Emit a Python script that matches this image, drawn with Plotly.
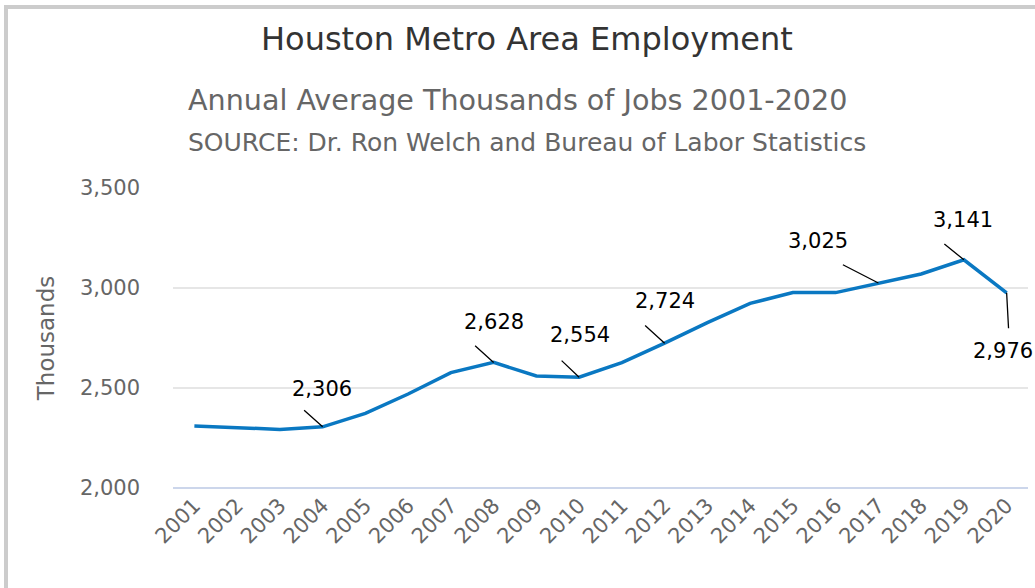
import plotly.graph_objects as go

# ---------------- data ----------------
years = [str(y) for y in range(2001, 2021)]
jobs = [2310, 2303, 2293, 2306, 2373, 2470, 2577, 2628, 2560, 2554,
        2627, 2724, 2827, 2923, 2977, 2977, 3025, 3070, 3141, 2976]
labeled_years = ["2004", "2008", "2010", "2012", "2017", "2019", "2020"]
y_ticks = [2000, 2500, 3000, 3500]

title_text = "Houston Metro Area Employment"
subtitle_text = "Annual Average Thousands of Jobs 2001-2020"
source_text = "SOURCE: Dr. Ron Welch and Bureau of Labor Statistics"
y_title = "Thousands"

# ---------------- styling / layout (pixels) ----------------
W, H = 1035, 588
ML, MR, MT, MB = 173, 7, 188, 100
PW, PH = W - ML - MR, H - MT - MB
FONT = "DejaVu Sans"
LINE_COLOR = "#0a78c2"

# connector (dx, dy) and text (dx, dy) offsets in pixels, screen coords (down = +)
label_offsets = {
    "2004": ((-20, -18), (-1, -38)),
    "2008": ((-20, -18), (0, -40)),
    "2010": ((-19, -18), (1, -42)),
    "2012": ((-21, -19), (0, -42)),
    "2017": ((-37, -19), (-60, -42)),
    "2019": ((-21, -17), (-1, -40)),
    "2020": ((2, 37), (-4, 58)),
}


def px_x(p):
    return (p - ML) / PW


def px_y(p):
    return (H - MB - p) / PH


fig = go.Figure()
fig.add_trace(go.Scatter(
    x=years, y=jobs, mode="lines",
    line=dict(color=LINE_COLOR, width=3.5),
    hoverinfo="x+y", showlegend=False,
))

annotations = []
for yr in labeled_years:
    i = years.index(yr)
    v = jobs[i]
    (ldx, ldy), (tdx, tdy) = label_offsets[yr]
    annotations.append(dict(
        x=i, y=v, xref="x", yref="y", text="", showarrow=True,
        arrowhead=0, arrowwidth=1.3, arrowcolor="#000000",
        ax=ldx, ay=ldy, standoff=0, startstandoff=0,
    ))
    annotations.append(dict(
        x=i, y=v, xref="x", yref="y", text=f"{v:,}", showarrow=False,
        xshift=tdx, yshift=-tdy, xanchor="center", yanchor="middle",
        font=dict(family=FONT, size=21, color="#000000"),
    ))

annotations += [
    dict(x=px_x(527), y=px_y(39), xref="paper", yref="paper", text=title_text,
         showarrow=False, xanchor="center", yanchor="middle",
         font=dict(family=FONT, size=32, color="#333333")),
    dict(x=px_x(186), y=px_y(100), xref="paper", yref="paper", text=subtitle_text,
         showarrow=False, xanchor="left", yanchor="middle",
         font=dict(family=FONT, size=28.6, color="#666666")),
    dict(x=px_x(186), y=px_y(142), xref="paper", yref="paper", text=source_text,
         showarrow=False, xanchor="left", yanchor="middle",
         font=dict(family=FONT, size=25, color="#666666")),
]

shapes = [
    # outer container border (left + top visible)
    dict(type="rect", xref="paper", yref="paper",
         x0=px_x(6), x1=px_x(1200), y0=px_y(800), y1=px_y(7),
         line=dict(color="#cccccc", width=4), fillcolor="rgba(0,0,0,0)", layer="below"),
    # x axis baseline
    dict(type="line", xref="paper", yref="paper", x0=0, x1=1, y0=0, y1=0,
         line=dict(color="#ccd6eb", width=2)),
]

fig.update_layout(
    width=W, height=H,
    margin=dict(l=ML, r=MR, t=MT, b=MB, pad=0),
    paper_bgcolor="white", plot_bgcolor="white",
    font=dict(family=FONT, color="#666666"),
    showlegend=False,
    annotations=annotations,
    shapes=shapes,
    xaxis=dict(
        type="category", range=[-0.5, len(years) - 0.5],
        showgrid=False, zeroline=False, showline=False,
        ticks="", tickangle=-45,
        tickfont=dict(family=FONT, size=21, color="#666666"),
        fixedrange=True,
    ),
    yaxis=dict(
        range=[2000, 3500], tickvals=y_ticks,
        ticktext=[f"{t:,}" for t in y_ticks],
        showgrid=True, gridcolor="#e6e6e6", gridwidth=2,
        zeroline=False, showline=False, ticks="",
        ticklabelstandoff=32,
        tickfont=dict(family=FONT, size=21, color="#666666"),
        title=dict(text=y_title, font=dict(family=FONT, size=23, color="#666666"),
                   standoff=18),
        fixedrange=True,
    ),
)

fig.write_html("out.html")
